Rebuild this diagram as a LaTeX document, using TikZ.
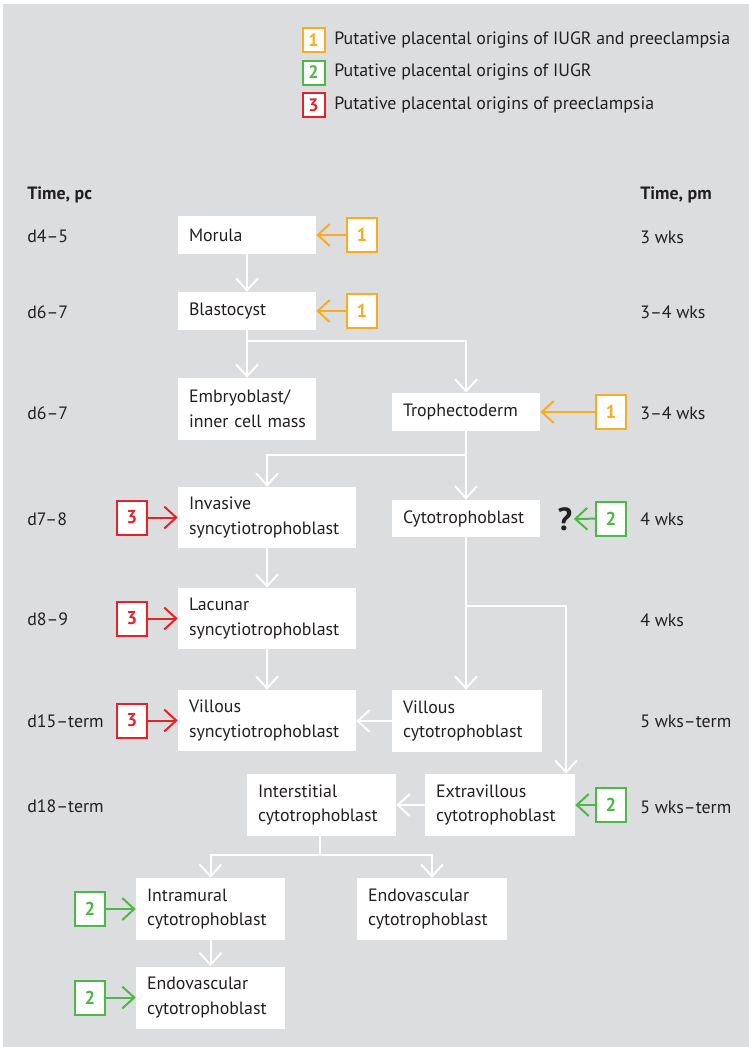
\documentclass[tikz,border=0pt]{standalone}
\usepackage{fontspec}
\setmainfont{PT Sans}
\usetikzlibrary{arrows.meta}
\definecolor{bg}{RGB}{220,221,223}
\definecolor{txt}{RGB}{35,31,32}
\definecolor{cor}{RGB}{248,172,32}
\definecolor{cgr}{RGB}{77,184,72}
\definecolor{cre}{RGB}{226,35,42}
\hbadness=10000 \hfuzz=50pt
\tikzset{
  body/.style={font=\fontsize{13.4}{18.5}\selectfont, text=txt},
  box/.style={body, fill=white, inner xsep=8.25pt, inner ysep=0pt, align=left},
  conn/.style={draw=white, line width=1.5pt, -{Straight Barb[length=9pt,width=16.5pt]}},
  carrow/.style={draw=#1, line width=1.5pt, -{Straight Barb[length=9pt,width=16.5pt]}},
  numbox/.style={draw=#1, line width=1.5pt, fill=white, minimum width=22.5pt, minimum height=25.5pt, inner sep=0pt, text=#1, font=\fontsize{14}{14}\selectfont\bfseries},
  legbox/.style={draw=#1, line width=1.5pt, fill=white, minimum width=16.5pt, minimum height=18pt, inner sep=0pt, text=#1, font=\fontsize{13.5}{13.5}\selectfont\bfseries},
  lab/.style={body, inner sep=0pt, anchor=west},
}
\begin{document}
\begin{tikzpicture}[x=0.75pt,y=-0.75pt]
\useasboundingbox (0,0) rectangle (749,1047);
\fill[bg] (3,4) rectangle (749,1047);

% legend
\node[legbox=cor] (k1) at (313.5,40) {1};
\node[legbox=cgr] (k2) at (313.5,72.5) {2};
\node[legbox=cre] (k3) at (313.5,105) {3};
\node[lab] (t1) at (334,40) {Putative placental origins of IUGR and preeclampsia};
\node[lab] (t2) at (334,72.5) {Putative placental origins of IUGR};
\node[lab] (t3) at (334,105) {Putative placental origins of preeclampsia};

% time labels left
\node[lab] (lh) at (27,195) {\bfseries Time, pc};
\node[lab] (l1) at (27,236) {d4--5};
\node[lab] (l2) at (27,312) {d6--7};
\node[lab] (l3) at (27,413) {d6--7};
\node[lab] (l4) at (27,519) {d7--8};
\node[lab] (l5) at (27,619) {d8--9};
\node[lab] (l6) at (27,721) {d15--term};
\node[lab] (l7) at (27,806) {d18--term};
% time labels right
\node[lab] (rh) at (640,195) {\bfseries Time, pm};
\node[lab] (r1) at (640,237) {3 wks};
\node[lab] (r2) at (640,312) {3--4 wks};
\node[lab] (r3) at (640,413) {3--4 wks};
\node[lab] (r4) at (640,519) {4 wks};
\node[lab] (r5) at (640,620) {4 wks};
\node[lab] (r6) at (640,721) {5 wks--term};
\node[lab] (r7) at (640,807) {5 wks--term};

% main boxes
\node[box, text width=87pt, minimum height=28.5pt] (morula) at (247,235) {Morula};
\node[box, text width=87pt, minimum height=28.5pt] (blast) at (247,311) {Blastocyst};
\node[box, text width=87pt, minimum height=46.5pt] (embryo) at (247,409) {\mbox{Embryoblast/}\\\mbox{inner cell mass}};
\node[box, text width=94.5pt, minimum height=28.5pt] (troph) at (466,412) {Trophectoderm};
\node[box, text width=117pt, minimum height=45.75pt] (inv) at (267,517.5) {Invasive\\syncytiotrophoblast};
\node[box, text width=94.5pt, minimum height=28pt] (cyto) at (466,518.5) {Cytotrophoblast};
\node[box, text width=117pt, minimum height=45.75pt] (lac) at (267,618.5) {Lacunar\\syncytiotrophoblast};
\node[box, text width=117pt, minimum height=45.75pt] (vsyn) at (267,720.5) {Villous\\syncytiotrophoblast};
\node[box, text width=96pt, minimum height=46.5pt] (vcyto) at (467,721) {Villous\\cytotrophoblast};
\node[box, text width=96pt, minimum height=46.5pt] (extra) at (500,805) {Extravillous\\cytotrophoblast};
\node[box, text width=95.25pt, minimum height=46.5pt] (inter) at (321.5,805) {Interstitial\\cytotrophoblast};
\node[box, text width=95.25pt, minimum height=46.5pt] (intra) at (210.5,909) {Intramural\\cytotrophoblast};
\node[box, text width=96pt, minimum height=46.5pt] (endoR) at (432,909) {Endovascular\\cytotrophoblast};
\node[box, text width=95.25pt, minimum height=46.5pt] (endoB) at (210.5,997.5) {Endovascular\\cytotrophoblast};

% white connectors
\coordinate (j1) at (247,341);
\coordinate (j2) at (466,455);
\coordinate (j3) at (466,606);
\coordinate (j4) at (566,606);
\coordinate (j5) at (320,855);
\draw[conn] (morula) -- (blast);
\draw[conn] (blast.south) -- (j1) -- (embryo.north);
\draw[conn] (j1) -| (troph.north);
\draw[conn] (troph.south) -- (j2) -- (cyto.north);
\draw[conn] (j2) -| (inv.north);
\draw[conn] (inv) -- (lac);
\draw[conn] (lac) -- (vsyn);
\draw[conn] (cyto.south) -- (j3) -- (j3 |- vcyto.north);
\draw[conn] (j3) -- (j4) -- (j4 |- extra.north);
\draw[conn] (vcyto.west) -- (vcyto.west -| vsyn.east);
\draw[conn] (extra.west) -- (extra.west -| inter.east);
\draw[conn] (inter.south -| j5) -- (j5) -| (intra.north);
\draw[conn] (j5) -| (endoR.north);
\draw[conn] (intra) -- (endoB);

% numbered markers
\node[numbox=cor] (n1) at (362,235) {1};
\node[numbox=cor] (n2) at (362,311) {1};
\node[numbox=cor] (n3) at (611,412) {1};
\node[numbox=cgr] (n4) at (611,518.5) {2};
\node[body, font=\fontsize{24}{24}\selectfont\bfseries, inner sep=1pt] (q) at (565,519) {?};
\node[numbox=cre] (n5) at (132,517.5) {3};
\node[numbox=cre] (n6) at (132,618.5) {3};
\node[numbox=cre] (n7) at (132,720.5) {3};
\node[numbox=cgr] (n8) at (611,805) {2};
\node[numbox=cgr] (n9) at (90,909) {2};
\node[numbox=cgr] (n10) at (90,997.5) {2};

\draw[carrow=cor] (n1) -- (morula);
\draw[carrow=cor] (n2) -- (blast);
\draw[carrow=cor] (n3) -- (troph);
\draw[carrow=cgr] (n4) -- (q);
\draw[carrow=cre] (n5) -- (inv);
\draw[carrow=cre] (n6) -- (lac);
\draw[carrow=cre] (n7) -- (vsyn);
\draw[carrow=cgr] (n8) -- (extra);
\draw[carrow=cgr] (n9) -- (intra);
\draw[carrow=cgr] (n10) -- (endoB);
\end{tikzpicture}
\end{document}
